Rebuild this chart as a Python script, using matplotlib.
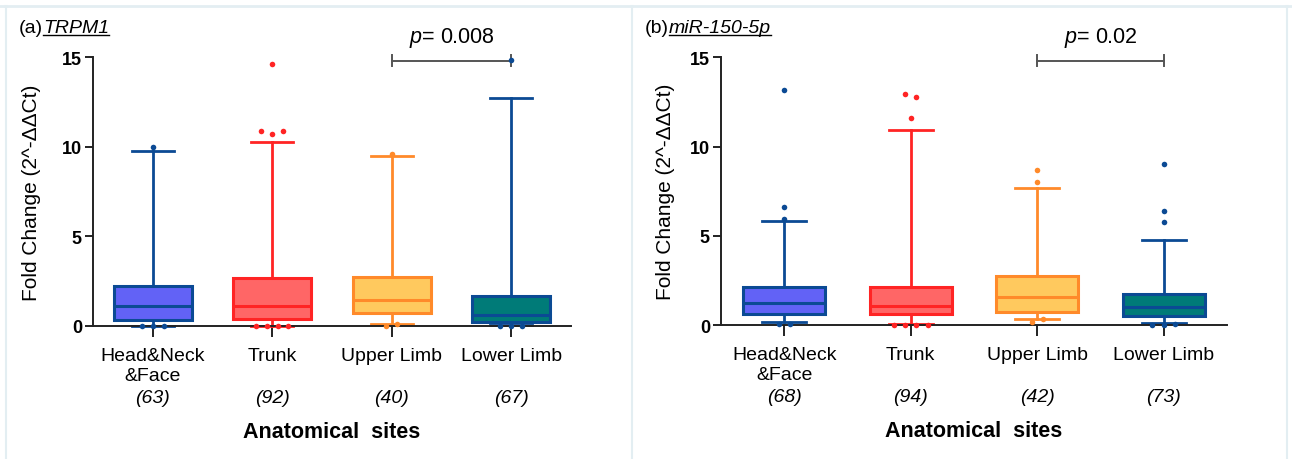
import matplotlib
matplotlib.use("Agg")
import matplotlib.pyplot as plt
from matplotlib.lines import Line2D
from matplotlib.transforms import blended_transform_factory

plt.rcParams['font.family'] = ['Liberation Sans', 'DejaVu Sans']
plt.rcParams['mathtext.fontset'] = 'custom'
plt.rcParams['mathtext.it'] = 'Liberation Sans:italic'
plt.rcParams['mathtext.rm'] = 'Liberation Sans'

sites = ["Head&Neck\n&Face", "Trunk", "Upper Limb", "Lower Limb"]
edge_colors = ['#0B4A94', '#FF2424', '#FF8A2A', '#0B4A94']
fill_colors = ['#6262F6', '#FF6666', '#FFC95E', '#007B78']

# (a) TRPM1
trpm1_n = [63, 92, 40, 67]
trpm1_q1 = [0.32, 0.37, 0.71, 0.20]
trpm1_med = [1.08, 1.10, 1.45, 0.60]
trpm1_q3 = [2.20, 2.68, 2.72, 1.64]
trpm1_lo = [0.0, 0.0, 0.07, 0.02]
trpm1_hi = [9.75, 10.28, 9.49, 12.75]
trpm1_out = [[10.0, 0.0, 0.0, 0.0],
             [14.6, 10.89, 10.69, 10.86, 0.0, 0.0, 0.0, 0.0],
             [9.57, 0.0, 0.07],
             [14.86, 0.0, 0.0, 0.0]]
trpm1_p = "0.008"

# (b) miR-150-5p
mir_n = [68, 94, 42, 73]
mir_q1 = [0.65, 0.61, 0.74, 0.52]
mir_med = [1.27, 1.08, 1.56, 1.00]
mir_q3 = [2.14, 2.14, 2.75, 1.77]
mir_lo = [0.20, 0.05, 0.37, 0.11]
mir_hi = [5.83, 10.95, 7.69, 4.80]
mir_out = [[13.17, 6.63, 5.94, 0.05, 0.05],
           [12.94, 12.8, 11.63, 0.03, 0.03, 0.03, 0.03],
           [8.69, 8.04, 0.2, 0.37],
           [9.03, 6.38, 5.8, 0.02, 0.03, 0.05]]
mir_p = "0.02"

# groups compared by the bracket (Upper Limb vs Lower Limb)
pair = (2, 3)


def spread(vals, step=0.09, tol=0.3):
    # points that would overlap are laid side by side, like prism does
    groups = []
    for v in vals:
        if groups and abs(v - groups[-1][0]) < tol:
            groups[-1].append(v)
        else:
            groups.append([v])
    offs = []
    for g in groups:
        k = len(g)
        offs += [(i - (k - 1) / 2) * step for i in range(k)]
    return offs


def draw_panel(ax, n, q1, med, q3, lo, hi, outs, ptxt, ylab_x):
    stats = [dict(med=med[i], q1=q1[i], q3=q3[i], whislo=lo[i], whishi=hi[i])
             for i in range(len(sites))]
    bp = ax.bxp(stats, positions=range(len(sites)), widths=0.65, capwidths=0.35,
                patch_artist=True, showfliers=False, manage_ticks=False)
    for i in range(len(sites)):
        ec = edge_colors[i]
        box = bp['boxes'][i]
        box.set_facecolor(fill_colors[i])
        box.set_edgecolor(ec)
        box.set_linewidth(2.2)
        box.set_clip_on(False)
        for art in bp['whiskers'][2 * i:2 * i + 2] + bp['caps'][2 * i:2 * i + 2]:
            art.set_color(ec)
            art.set_linewidth(2.0)
            art.set_clip_on(False)
        bp['medians'][i].set_color(ec)
        bp['medians'][i].set_linewidth(2.2)
        xs = [i + o for o in spread(outs[i])]
        ax.plot(xs, outs[i], 'o', color=ec, ms=4, mec='none', clip_on=False, zorder=5)

    ax.set_xlim(-0.5, 3.5)
    ax.set_ylim(0, 15)
    ax.set_yticks([0, 5, 10, 15])
    ax.set_xticks(range(len(sites)))
    ax.set_xticklabels(sites, fontsize=14, linespacing=1.25)
    for lbl in ax.get_yticklabels():
        lbl.set_fontweight('bold')
        lbl.set_fontsize(13)
    ax.tick_params(axis='x', length=8, width=1.4, pad=7, color='#222222')
    ax.tick_params(axis='y', length=6, width=1.4, pad=2, color='#222222')
    for s in ['top', 'right']:
        ax.spines[s].set_visible(False)
    for s in ['left', 'bottom']:
        ax.spines[s].set_linewidth(1.4)
        ax.spines[s].set_color('#222222')

    trans = blended_transform_factory(ax.transData, ax.transAxes)
    for i in range(len(sites)):
        ax.text(i, -0.284, f"({n[i]})", transform=trans, ha='center', va='baseline',
                fontsize=14, style='italic')

    ax.set_xlabel("Anatomical  sites", fontsize=15.5, fontweight='bold')
    ax.xaxis.set_label_coords(0.5, -0.354)
    ax.set_ylabel("Fold Change (2^-ΔΔCt)", fontsize=15)
    ax.yaxis.set_label_coords(ylab_x, 0.5)

    # significance bracket
    x0, x1 = pair
    yb = 14.82
    ax.plot([x0, x1], [yb, yb], color='#555555', lw=1.4, clip_on=False)
    for xe in (x0, x1):
        ax.plot([xe, xe], [yb - 0.33, yb + 0.33], color='#555555', lw=1.4, clip_on=False)
    ax.text((x0 + x1) / 2, 16.15, "$p$= " + ptxt, ha='center', va='center', fontsize=15.5)


W, H = 1292, 460
fig = plt.figure(figsize=(W / 100, H / 100), dpi=100)
ax1 = fig.add_axes([93 / W, (H - 326.7) / H, 478 / W, 268.4 / H])
ax2 = fig.add_axes([721 / W, (H - 326.3) / H, 506 / W, 268.0 / H])

draw_panel(ax1, trpm1_n, trpm1_q1, trpm1_med, trpm1_q3, trpm1_lo, trpm1_hi, trpm1_out, trpm1_p, -0.109)
draw_panel(ax2, mir_n, mir_q1, mir_med, mir_q3, mir_lo, mir_hi, mir_out, mir_p, -0.091)

# faint panel frames
frame_col = '#E3EEF2'
fig.add_artist(Line2D([0, 1], [1 - 7 / H, 1 - 7 / H], transform=fig.transFigure, color=frame_col, lw=2))
for xp in (6, 632, 1287):
    fig.add_artist(Line2D([xp / W, xp / W], [0, 1 - 7 / H], transform=fig.transFigure, color=frame_col, lw=1.5))

# panel titles: "(a)" + underlined italic gene name
fig.canvas.draw()
renderer = fig.canvas.get_renderer()
for xpix, tag, name in [(19, "(a)", "TRPM1"), (645, "(b)", "miR-150-5p")]:
    t1 = fig.text(xpix / W, 1 - 33 / H, tag, fontsize=14, va='baseline')
    bb1 = t1.get_window_extent(renderer)
    t2 = fig.text(bb1.x1 / W, 1 - 33 / H, name, fontsize=14, va='baseline', style='italic')
    bb2 = t2.get_window_extent(renderer)
    yu = 1 - 35.5 / H
    fig.add_artist(Line2D([bb2.x0 / W, bb2.x1 / W], [yu, yu], transform=fig.transFigure,
                          color='black', lw=1.0))

fig.savefig("out.png", dpi=100)
